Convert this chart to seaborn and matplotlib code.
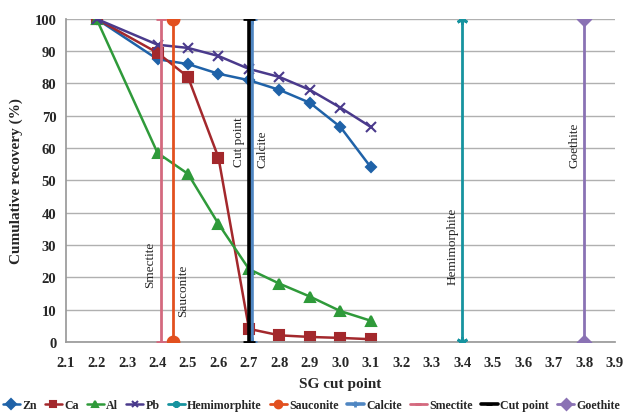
import seaborn as sns
import matplotlib.pyplot as plt
import pandas as pd

# SG cut points and cumulative recovery (%)
sg = [2.2, 2.4, 2.5, 2.6, 2.7, 2.8, 2.9, 3.0, 3.1]
zn = [100, 87.5, 86, 83, 81, 78, 74, 66.5, 54]
ca = [100, 89.5, 82, 57, 4, 2, 1.5, 1.2, 0.8]
al = [100, 58.5, 52, 36.5, 22.5, 18, 14, 9.5, 6.5]
pb = [100, 92, 91, 88.5, 84.5, 82, 78, 72.5, 66.5]

# mineral densities drawn as vertical lines
minerals = ['Hemimorphite', 'Sauconite', 'Calcite', 'Smectite', 'Cut point', 'Goethite']
mineral_sg = [3.4, 2.45, 2.71, 2.41, 2.7, 3.8]
line_span = [0, 100]

sns.set_theme(style='white')
plt.rcParams['font.family'] = ['Liberation Serif', 'DejaVu Serif']

fig, ax = plt.subplots(figsize=(6.23, 4.14), dpi=100)
fig.subplots_adjust(left=0.106, right=0.987, top=0.952, bottom=0.172)

series = [('Zn', zn, '#1f62a8', 'D', 5),
          ('Ca', ca, '#a3282c', 's', 7),
          ('Al', al, '#2f9a3a', '^', 7),
          ('Pb', pb, '#4a3a8c', 'x', 7)]
mstyle = {'Hemimorphite': ('#16939f', (6, 2, 0), 8),
          'Sauconite': ('#e2501f', 'o', 8),
          'Calcite': ('#4f86c2', '+', 7),
          'Smectite': ('#d4697e', '_', 7),
          'Cut point': ('#000000', '_', 9),
          'Goethite': ('#8a72b4', 'D', 6)}

for name, vals, col, mk, ms in series:
    df = pd.DataFrame({'sg': sg, 'rec': vals})
    sns.lineplot(data=df, x='sg', y='rec', ax=ax, color=col, marker=mk,
                 markersize=ms, markeredgecolor=col, markeredgewidth=1.5,
                 linewidth=1.8, label=name, estimator=None, sort=False)

for name, x in zip(minerals, mineral_sg):
    col, mk, ms = mstyle[name]
    lw = 2.6 if name in ('Cut point', 'Calcite') else 2.0
    df = pd.DataFrame({'sg': [x, x], 'rec': line_span})
    sns.lineplot(data=df, x='sg', y='rec', ax=ax, color=col, marker=mk,
                 markersize=ms, markeredgecolor=col, markeredgewidth=2,
                 linewidth=lw, label=name, zorder=3, estimator=None, sort=False)

# rotated labels beside the vertical lines
labels = [('Smectite', 2.41, 24, -0.013, 'right'),
          ('Sauconite', 2.45, 16, 0.013, 'left'),
          ('Cut point', 2.7, 62, -0.013, 'right'),
          ('Calcite', 2.71, 60, 0.013, 'left'),
          ('Hemimorphite', 3.4, 30, -0.013, 'right'),
          ('Goethite', 3.8, 61, -0.013, 'right')]
for txt, x, y, dx, ha in labels:
    ax.text(x + dx, y, txt, rotation=90, ha=ha, va='center', fontsize=9.5)

ax.set_xlim(2.1, 3.9)
ax.set_ylim(0, 100)
ax.set_xticks([2.1 + 0.1 * i for i in range(19)])
ax.set_xticklabels([f'{2.1 + 0.1 * i:.1f}' for i in range(19)])
ax.set_yticks(range(0, 101, 10))
ax.yaxis.grid(True, color='#b0b0b0', linewidth=1)
ax.xaxis.grid(False)
for s in ['top', 'right']:
    ax.spines[s].set_visible(False)
for s in ['left', 'bottom']:
    ax.spines[s].set_color('#9a9a9a')
ax.tick_params(axis='both', which='both', direction='out', length=4,
               color='#9a9a9a', labelsize=10.5, pad=3)
ax.tick_params(axis='x', pad=6)
for lab in ax.get_xticklabels() + ax.get_yticklabels():
    lab.set_fontweight('bold')

ax.set_xlabel('SG cut point', fontsize=11, fontweight='bold', labelpad=6)
ax.set_ylabel('Cumulative recovery (%)', fontsize=11, fontweight='bold', labelpad=8)

h, l = ax.get_legend_handles_labels()
ax.legend_.remove()
leg = fig.legend(h, l, loc='lower center', ncol=10, frameon=False,
                 bbox_to_anchor=(0.5, -0.012), fontsize=8.6, handlelength=1.4,
                 columnspacing=0.7, handletextpad=0.2, borderaxespad=0.2)
for t in leg.get_texts():
    t.set_fontweight('bold')
for lh in leg.legend_handles:
    lh.set_markersize(5)

fig.savefig('out.png', dpi=100)
